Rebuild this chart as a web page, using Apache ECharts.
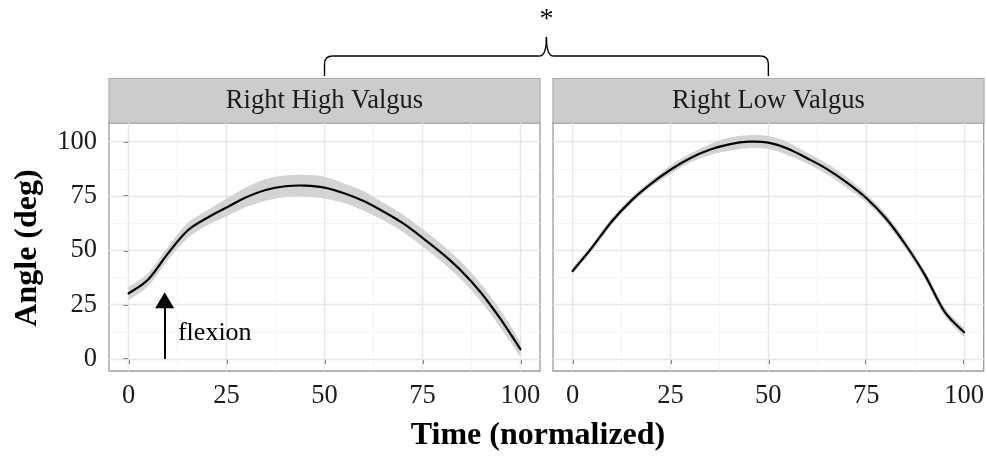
<!DOCTYPE html>
<html>
<head>
<meta charset="utf-8">
<script src="https://cdn.jsdelivr.net/npm/echarts@6.0.0/dist/echarts.min.js"></script>
<style>
  html, body { margin: 0; padding: 0; background: #fff; }
  #main { width: 987px; height: 456px; }
</style>
</head>
<body>
<div id="main"></div>
<script>
// time axis (normalized, %)
var timePts = [0, 5, 10, 15, 20, 25, 30, 35, 40, 45, 50, 55, 60, 65, 70, 75, 80, 85, 90, 95, 100];
// Right High Valgus: mean angle and band half-width
var highMean = [30.2, 36.6, 48.5, 59, 64.9, 69.7, 74.4, 77.8, 79.5, 79.8, 78.9, 76.3, 72.7, 67.9, 62.5, 55.8, 48.6, 40.4, 30.4, 18.2, 4.5];
var highSE = [3, 3, 3, 3.5, 3.5, 4, 4.5, 5, 5, 5, 5, 4.5, 4.5, 4, 4, 4, 4, 4, 4, 4, 3.5];
// Right Low Valgus
var lowMean = [40.5, 51.4, 63.3, 72.9, 80.6, 87.1, 92.4, 96.3, 98.8, 100, 99.6, 96.8, 92.3, 87.4, 81.3, 74.1, 64.8, 52.7, 38.6, 21.8, 12.3];
var lowSE = [1.5, 1.5, 1.5, 1.5, 1.5, 2, 2, 2.5, 3, 3, 3, 3, 2.5, 2.5, 2.5, 2, 2, 2, 2, 2, 2];

var panelNames = ["Right High Valgus", "Right Low Valgus"];
var majorTicks = [0, 25, 50, 75, 100];
var minorTicks = [12.5, 37.5, 62.5, 87.5];

var serif = "'Liberation Serif', 'Times New Roman', serif";
var chart = echarts.init(document.getElementById('main'));

var gridLeft = [109, 553];
var gridTop = 123, gridW = 431, gridH = 248;

function gridLines() {
  var d = [];
  majorTicks.forEach(function (v) {
    d.push({ xAxis: v, lineStyle: { color: '#e6e6e6', width: 1.4, type: 'solid' } });
    d.push({ yAxis: v, lineStyle: { color: '#e6e6e6', width: 1.4, type: 'solid' } });
  });
  minorTicks.forEach(function (v) {
    d.push({ xAxis: v, lineStyle: { color: '#f3f3f3', width: 0.8, type: 'solid' } });
    d.push({ yAxis: v, lineStyle: { color: '#f3f3f3', width: 0.8, type: 'solid' } });
  });
  return d;
}

// smooth path through pixel points (Catmull-Rom as cubic bezier)
function curvePath(pts, moveFirst) {
  var s = (moveFirst ? 'M' : 'L') + pts[0][0] + ' ' + pts[0][1];
  for (var i = 0; i < pts.length - 1; i++) {
    var p0 = pts[Math.max(i - 1, 0)], p1 = pts[i], p2 = pts[i + 1], p3 = pts[Math.min(i + 2, pts.length - 1)];
    var c1x = p1[0] + (p2[0] - p0[0]) / 6, c1y = p1[1] + (p2[1] - p0[1]) / 6;
    var c2x = p2[0] - (p3[0] - p1[0]) / 6, c2y = p2[1] - (p3[1] - p1[1]) / 6;
    s += ' C' + c1x + ' ' + c1y + ' ' + c2x + ' ' + c2y + ' ' + p2[0] + ' ' + p2[1];
  }
  return s;
}

var series = [];
[[highMean, highSE], [lowMean, lowSE]].forEach(function (p, i) {
  var mean = p[0], se = p[1];
  var rows = timePts.map(function (t, k) { return [t, mean[k] - se[k], mean[k] + se[k], mean[k]]; });
  // grid lines (under everything)
  series.push({
    type: 'line', xAxisIndex: i, yAxisIndex: i, data: [], z: 1, silent: true,
    markLine: { silent: true, symbol: 'none', z: 1, animation: false, label: { show: false }, data: gridLines() }
  });
  // confidence ribbon + mean curve
  var s = {
    type: 'custom', xAxisIndex: i, yAxisIndex: i, data: rows, z: 2, silent: true,
    encode: { x: 0, y: [1, 2, 3] }, clip: true,
    renderItem: function (params, api) {
      if (params.dataIndex !== 0) return null;
      var up = rows.map(function (r) { return api.coord([r[0], r[2]]); });
      var lo = rows.map(function (r) { return api.coord([r[0], r[1]]); }).reverse();
      var mid = rows.map(function (r) { return api.coord([r[0], r[3]]); });
      return {
        type: 'group',
        children: [
          { type: 'path', shape: { pathData: curvePath(up, true) + ' ' + curvePath(lo, false) + ' Z' },
            style: { fill: '#d3d3d3', stroke: null } },
          { type: 'path', shape: { pathData: curvePath(mid, true) },
            style: { fill: null, stroke: '#000', lineWidth: 2.2, lineJoin: 'round', lineCap: 'round' } }
        ]
      };
    }
  };
  if (i === 0) {
    // flexion arrow
    s.markLine = {
      silent: true, symbol: ['none', 'triangle'], symbolSize: [19, 16],
      label: { show: false },
      lineStyle: { color: '#000', width: 2, type: 'solid' },
      data: [[{ coord: [9.2, 0] }, { coord: [9.2, 27] }]]
    };
  }
  series.push(s);
});

var axisLabelStyle = { fontFamily: serif, fontSize: 26.5, color: '#1a1a1a' };

chart.setOption({
  animation: false,
  grid: gridLeft.map(function (l) {
    return { left: l, top: gridTop, width: gridW, height: gridH, show: true,
      borderColor: '#9a9a9a', borderWidth: 1.3, backgroundColor: '#fff', containLabel: false };
  }),
  xAxis: [0, 1].map(function (i) {
    return {
      type: 'value', gridIndex: i, min: -5, max: 105,
      axisLine: { show: false },
      axisTick: { show: true, customValues: majorTicks, length: 5, lineStyle: { color: '#333', width: 1.6 } },
      axisLabel: Object.assign({ customValues: majorTicks, margin: 12 }, axisLabelStyle),
      splitLine: { show: false }
    };
  }),
  yAxis: [0, 1].map(function (i) {
    return {
      type: 'value', gridIndex: i, min: -5.5, max: 108.6,
      axisLine: { show: false },
      axisTick: { show: i === 0, customValues: majorTicks, length: 5, lineStyle: { color: '#333', width: 1.6 } },
      axisLabel: Object.assign({ show: i === 0, customValues: majorTicks, margin: 12 }, axisLabelStyle),
      splitLine: { show: false }
    };
  }),
  series: series
});

// annotations placed through the axes
var xl = chart.convertToPixel({ xAxisIndex: 0 }, 50);
var xr = chart.convertToPixel({ xAxisIndex: 1 }, 50);
var xc = (xl + xr) / 2;
var flex = chart.convertToPixel({ gridIndex: 0 }, [12.6, 12]);

var braceStyle = { stroke: '#000', lineWidth: 1.4, fill: null };
var graphics = [];
gridLeft.forEach(function (l, i) {
  graphics.push({
    type: 'rect', shape: { x: l, y: 78.5, width: gridW, height: 44.5 },
    style: { fill: '#cccccc', stroke: '#ababab', lineWidth: 1.2 }
  });
  graphics.push({
    type: 'text', x: l + gridW / 2, y: 101, z: 20,
    style: { text: panelNames[i], font: '26.5px ' + serif, fill: '#1a1a1a', textAlign: 'center', textVerticalAlign: 'middle' }
  });
});
// brace over the two panels
graphics.push({ type: 'line', shape: { x1: xl, y1: 76, x2: xl, y2: 64 }, style: braceStyle });
graphics.push({ type: 'bezierCurve', shape: { x1: xl, y1: 64, cpx1: xl, cpy1: 56, x2: xl + 8, y2: 56 }, style: braceStyle });
graphics.push({ type: 'line', shape: { x1: xl + 8, y1: 56, x2: xc - 7, y2: 56 }, style: braceStyle });
graphics.push({ type: 'bezierCurve', shape: { x1: xc - 7, y1: 56, cpx1: xc, cpy1: 56, x2: xc, y2: 37 }, style: braceStyle });
graphics.push({ type: 'bezierCurve', shape: { x1: xc, y1: 37, cpx1: xc, cpy1: 56, x2: xc + 7, y2: 56 }, style: braceStyle });
graphics.push({ type: 'line', shape: { x1: xc + 7, y1: 56, x2: xr - 8, y2: 56 }, style: braceStyle });
graphics.push({ type: 'bezierCurve', shape: { x1: xr - 8, y1: 56, cpx1: xr, cpy1: 56, x2: xr, y2: 64 }, style: braceStyle });
graphics.push({ type: 'line', shape: { x1: xr, y1: 64, x2: xr, y2: 76 }, style: braceStyle });
graphics.push({
  type: 'text', x: xc, y: 20, z: 20,
  style: { text: '*', font: '28px ' + serif, fill: '#000', textAlign: 'center', textVerticalAlign: 'middle' }
});
graphics.push({
  type: 'text', x: flex[0], y: flex[1], z: 20,
  style: { text: 'flexion', font: '26px ' + serif, fill: '#000', textAlign: 'left', textVerticalAlign: 'middle' }
});
graphics.push({
  type: 'text', x: 28, y: 248, rotation: Math.PI / 2, z: 20,
  style: { text: 'Angle (deg)', font: 'bold 32px ' + serif, fill: '#000', textAlign: 'center', textVerticalAlign: 'middle' }
});
graphics.push({
  type: 'text', x: 538, y: 436, z: 20,
  style: { text: 'Time (normalized)', font: 'bold 32px ' + serif, fill: '#000', textAlign: 'center', textVerticalAlign: 'middle' }
});
chart.setOption({ graphic: graphics });
</script>
</body>
</html>
